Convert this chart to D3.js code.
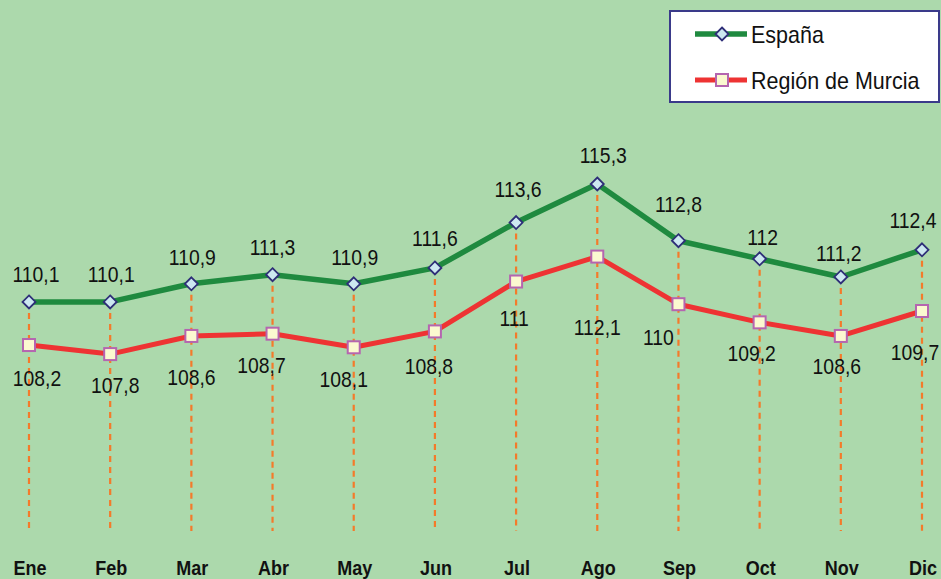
<!DOCTYPE html>
<html><head><meta charset="utf-8">
<script src="https://cdn.jsdelivr.net/npm/d3@7"></script>
<style>html,body{margin:0;padding:0;background:#acd9ac;overflow:hidden}svg{display:block}</style>
</head><body><svg id="c" width="941" height="579"></svg>
<script>
const months = ["Ene","Feb","Mar","Abr","May","Jun","Jul","Ago","Sep","Oct","Nov","Dic"];
const espana = [110.1,110.1,110.9,111.3,110.9,111.6,113.6,115.3,112.8,112.0,111.2,112.4];
const murcia = [108.2,107.8,108.6,108.7,108.1,108.8,111.0,112.1,110.0,109.2,108.6,109.7];
const seriesNames = ["España","Región de Murcia"];

// label nudges (layout only)
const espDx = [7,1,1,0,1,0,2,6,0,3,-2,-9];
const espDy = [-20,-20,-19,-20,-19,-22,-26,-21,-29,-14,-16,-22];
const murDx = [8,5,0,-11,-10,-6,-2,0,-20,-8,-4,-7];
const murDy = [41,39,49,39,40,43,44,78,41,39,38,49];

const svg = d3.select("#c");
const W = 941, H = 579;
svg.append("rect").attr("width",W).attr("height",H).attr("fill","#acd9ac");

const x = d3.scalePoint().domain(months).range([29, 922]);
const y = d3.scaleLinear().domain([100, 124]).range([531, 531 - 24*22.68]);

const fmt = v => String(v).replace(".", ",");
const topVals = months.map((m,i)=>Math.max(espana[i], murcia[i]));

// drop lines
svg.append("g").selectAll("line").data(months).join("line")
  .attr("x1", d=>x(d)).attr("x2", d=>x(d))
  .attr("y1", (d,i)=>y(topVals[i])).attr("y2", y(100))
  .attr("stroke","#f47a2a").attr("stroke-width",2.2).attr("stroke-dasharray","6,5");

const line = d3.line().x((d,i)=>x(months[i])).y(d=>y(d));
svg.append("path").datum(murcia).attr("d", line).attr("fill","none")
  .attr("stroke","#ee3333").attr("stroke-width",5).attr("stroke-linejoin","round");
svg.append("path").datum(espana).attr("d", line).attr("fill","none")
  .attr("stroke","#1f8a3f").attr("stroke-width",5.5).attr("stroke-linejoin","round");

function diamond(g, cx, cy){
  g.append("path").attr("d", `M${cx},${cy-6.5}L${cx+6.5},${cy}L${cx},${cy+6.5}L${cx-6.5},${cy}Z`)
   .attr("fill","#cce8f0").attr("stroke","#2e2e78").attr("stroke-width",1.8);
}
function square(g, cx, cy){
  g.append("rect").attr("x",cx-6).attr("y",cy-6).attr("width",12).attr("height",12)
   .attr("fill","#fbf9d0").attr("stroke","#b565b0").attr("stroke-width",2);
}
const mg = svg.append("g");
murcia.forEach((v,i)=>square(mg, x(months[i]), y(v)));
espana.forEach((v,i)=>diamond(mg, x(months[i]), y(v)));

function label(g, tx, ty, txt, size, sx, weight){
  g.append("text").attr("transform",`translate(${tx},${ty}) scale(${sx},1)`)
   .attr("text-anchor","middle").attr("font-family","Liberation Sans, Arial, sans-serif")
   .attr("font-size",size).attr("font-weight",weight||"normal").attr("fill","#111").text(txt);
}
const lg = svg.append("g");
espana.forEach((v,i)=>label(lg, x(months[i])+espDx[i], y(v)+espDy[i], fmt(v), 22, 0.88));
murcia.forEach((v,i)=>label(lg, x(months[i])+murDx[i], y(v)+murDy[i], fmt(v), 22, 0.88));

// category axis labels
months.forEach((m,i)=>label(lg, x(m)+1, 575, m, 20, 0.9, "bold"));

// legend
const leg = svg.append("g");
leg.append("rect").attr("x",670).attr("y",11).attr("width",269).attr("height",91)
  .attr("fill","#fff").attr("stroke","#3a3a8a").attr("stroke-width",2);
const legItems = [
  {name: seriesNames[0], color:"#1f8a3f", mk: diamond, w:5.5},
  {name: seriesNames[1], color:"#ee3333", mk: square, w:5}
];
legItems.forEach((it,k)=>{
  const cy = 34 + k*46;
  leg.append("line").attr("x1",695).attr("x2",747).attr("y1",cy).attr("y2",cy)
    .attr("stroke",it.color).attr("stroke-width",it.w);
  it.mk(leg, 722, cy);
  leg.append("text").attr("transform",`translate(751,${cy+8.5}) scale(0.935,1)`)
    .attr("font-family","Liberation Sans, Arial, sans-serif").attr("font-size",23)
    .attr("fill","#111").text(it.name);
});
</script></body></html>
